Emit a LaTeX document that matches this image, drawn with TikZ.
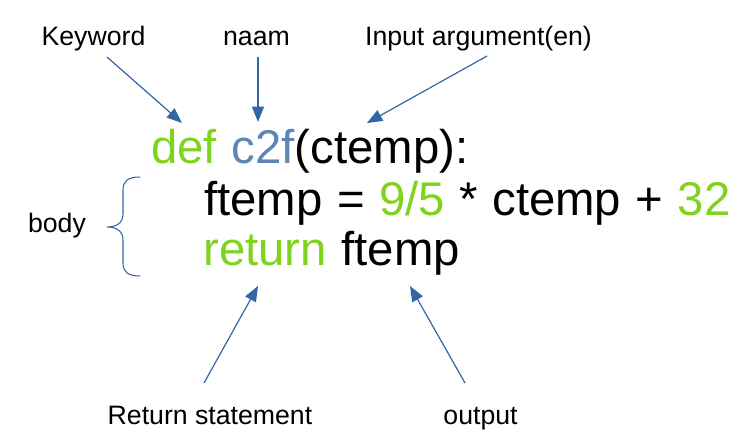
\documentclass[tikz,border=0pt]{standalone}
\usepackage{fontspec}
\setmainfont{Liberation Sans}
\newfontfamily\codefont[WordSpace=1.1]{Liberation Sans}
\usetikzlibrary{arrows.meta}
\definecolor{pygreen}{HTML}{7FD31E}
\definecolor{pyname}{HTML}{5B86B5}
\definecolor{arrowblue}{HTML}{3465A4}
\tikzset{
  lbl/.style={anchor=base,inner sep=0pt,font=\fontsize{20}{24}\selectfont},
  code/.style={anchor=base west,inner sep=0pt,font=\codefont\fontsize{35.5}{40}\selectfont},
  pointer/.style={draw=arrowblue,line width=0.9pt,-{Triangle[length=11.5pt,width=9pt]}}
}

\begin{document}
\begin{tikzpicture}[x=0.75pt,y=-0.75pt]
\useasboundingbox (0,0) rectangle (743,443);
% labels
\node[lbl] (keyword) at (93.5,45) {Keyword};
\node[lbl] (naam) at (256.5,45) {naam};
\node[lbl] (input) at (478.5,45) {Input argument(en)};
\node[lbl] (body) at (57,232) {body};
\node[lbl] (retstat) at (210,424) {Return statement};
\node[lbl] (output) at (480.5,424) {output};
% code
\node[code] (line1) at (151,163) {\textcolor{pygreen}{def} \textcolor{pyname}{c2f}(ctemp):};
\node[code] (line2) at (204,215) {ftemp = \textcolor{pygreen}{9/5} * ctemp + \textcolor{pygreen}{32}};
\node[code] (line3) at (203,265) {\textcolor{pygreen}{return} ftemp};
% arrow ends
\coordinate (kw-s) at (107,57);  \coordinate (kw-t) at (182,123);
\coordinate (nm-s) at (258,57);  \coordinate (nm-t) at (258,122);
\coordinate (in-s) at (487,56);  \coordinate (in-t) at (367,123);
\coordinate (rs-s) at (204,383); \coordinate (rs-t) at (258,286);
\coordinate (out-s) at (465,383); \coordinate (out-t) at (410,286);
\draw[pointer] (kw-s) -- (kw-t);
\draw[pointer] (nm-s) -- (nm-t);
\draw[pointer] (in-s) -- (in-t);
\draw[pointer] (rs-s) -- (rs-t);
\draw[pointer] (out-s) -- (out-t);
% brace
\draw[arrowblue,line width=0.8pt] (140,177) .. controls (128,177) and (123,181) .. (123,190) -- (123,214)
  .. controls (123,224) and (115,227) .. (107,227) .. controls (115,227) and (123,230) .. (123,240)
  -- (123,263) .. controls (123,272) and (128,276) .. (140,276);
\end{tikzpicture}
\end{document}
